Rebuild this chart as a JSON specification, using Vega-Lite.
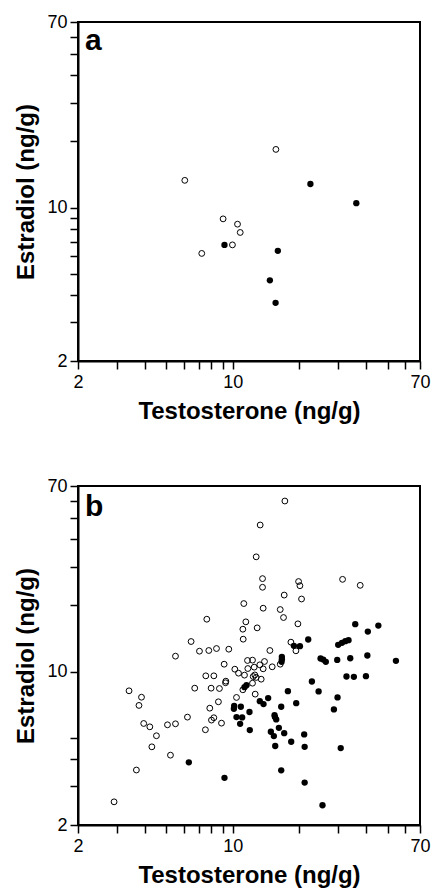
{
  "$schema": "https://vega.github.io/schema/vega-lite/v6.json",
  "padding": {"left": 13, "top": 12, "right": 0, "bottom": 0},
  "background": "white",
  "config": {
    "view": {"stroke": "black", "strokeWidth": 2},
    "axis": {
      "grid": false,
      "domainColor": "black",
      "domainWidth": 2,
      "tickColor": "black",
      "tickWidth": 1.5,
      "tickSize": 8,
      "labelFont": "Liberation Sans",
      "labelFontSize": 18,
      "labelColor": "black",
      "labelFlush": false,
      "labelOverlap": false,
      "titleFont": "Liberation Sans",
      "titleFontSize": 24,
      "titleFontWeight": "bold",
      "titleColor": "black"
    }
  },
  "datasets": {
    "pts": [
      {"panel": "a", "group": "open", "testosterone": 15.65, "estradiol": 18.4},
      {"panel": "a", "group": "open", "testosterone": 6.07, "estradiol": 13.3},
      {"panel": "a", "group": "open", "testosterone": 9.04, "estradiol": 8.88},
      {"panel": "a", "group": "open", "testosterone": 10.5, "estradiol": 8.4},
      {"panel": "a", "group": "open", "testosterone": 10.8, "estradiol": 7.7},
      {"panel": "a", "group": "open", "testosterone": 9.96, "estradiol": 6.76},
      {"panel": "a", "group": "open", "testosterone": 7.24, "estradiol": 6.18},
      {"panel": "a", "group": "filled", "testosterone": 22.4, "estradiol": 12.8},
      {"panel": "a", "group": "filled", "testosterone": 36.1, "estradiol": 10.47},
      {"panel": "a", "group": "filled", "testosterone": 9.17, "estradiol": 6.76},
      {"panel": "a", "group": "filled", "testosterone": 15.97, "estradiol": 6.35},
      {"panel": "a", "group": "filled", "testosterone": 14.7, "estradiol": 4.66},
      {"panel": "a", "group": "filled", "testosterone": 15.6, "estradiol": 3.68},

      {"panel": "b", "group": "open", "testosterone": 17.18, "estradiol": 59.8},
      {"panel": "b", "group": "open", "testosterone": 13.29, "estradiol": 46.5},
      {"panel": "b", "group": "open", "testosterone": 12.75, "estradiol": 33.3},
      {"panel": "b", "group": "open", "testosterone": 13.62, "estradiol": 26.5},
      {"panel": "b", "group": "open", "testosterone": 13.62, "estradiol": 24.2},
      {"panel": "b", "group": "open", "testosterone": 19.81, "estradiol": 25.7},
      {"panel": "b", "group": "open", "testosterone": 20.09, "estradiol": 24.6},
      {"panel": "b", "group": "open", "testosterone": 17.06, "estradiol": 22.3},
      {"panel": "b", "group": "open", "testosterone": 20.43, "estradiol": 21.4},
      {"panel": "b", "group": "open", "testosterone": 31.3, "estradiol": 26.3},
      {"panel": "b", "group": "open", "testosterone": 37.6, "estradiol": 24.7},
      {"panel": "b", "group": "open", "testosterone": 11.21, "estradiol": 20.4},
      {"panel": "b", "group": "open", "testosterone": 13.71, "estradiol": 19.43},
      {"panel": "b", "group": "open", "testosterone": 16.37, "estradiol": 19.16},
      {"panel": "b", "group": "open", "testosterone": 16.94, "estradiol": 17.62},
      {"panel": "b", "group": "open", "testosterone": 7.63, "estradiol": 17.31},
      {"panel": "b", "group": "open", "testosterone": 11.45, "estradiol": 16.84},
      {"panel": "b", "group": "open", "testosterone": 19.67, "estradiol": 16.49},
      {"panel": "b", "group": "open", "testosterone": 12.88, "estradiol": 15.81},
      {"panel": "b", "group": "open", "testosterone": 11.1, "estradiol": 15.59},
      {"panel": "b", "group": "open", "testosterone": 11.14, "estradiol": 14.04},
      {"panel": "b", "group": "open", "testosterone": 6.48, "estradiol": 13.7},
      {"panel": "b", "group": "open", "testosterone": 18.29, "estradiol": 13.61},
      {"panel": "b", "group": "open", "testosterone": 7.07, "estradiol": 12.38},
      {"panel": "b", "group": "open", "testosterone": 7.79, "estradiol": 12.47},
      {"panel": "b", "group": "open", "testosterone": 8.44, "estradiol": 12.73},
      {"panel": "b", "group": "open", "testosterone": 9.59, "estradiol": 12.64},
      {"panel": "b", "group": "open", "testosterone": 14.7, "estradiol": 12.47},
      {"panel": "b", "group": "open", "testosterone": 19.27, "estradiol": 12.43},
      {"panel": "b", "group": "open", "testosterone": 5.51, "estradiol": 11.75},
      {"panel": "b", "group": "open", "testosterone": 11.65, "estradiol": 11.23},
      {"panel": "b", "group": "open", "testosterone": 12.27, "estradiol": 11.27},
      {"panel": "b", "group": "open", "testosterone": 9.14, "estradiol": 10.8},
      {"panel": "b", "group": "open", "testosterone": 13.24, "estradiol": 10.73},
      {"panel": "b", "group": "open", "testosterone": 13.9, "estradiol": 11.11},
      {"panel": "b", "group": "open", "testosterone": 15.06, "estradiol": 10.51},
      {"panel": "b", "group": "open", "testosterone": 16.37, "estradiol": 10.8},
      {"panel": "b", "group": "open", "testosterone": 10.21, "estradiol": 10.25},
      {"panel": "b", "group": "open", "testosterone": 11.69, "estradiol": 10.32},
      {"panel": "b", "group": "open", "testosterone": 12.49, "estradiol": 10.47},
      {"panel": "b", "group": "open", "testosterone": 13.71, "estradiol": 10.29},
      {"panel": "b", "group": "open", "testosterone": 10.61, "estradiol": 9.83},
      {"panel": "b", "group": "open", "testosterone": 11.29, "estradiol": 9.63},
      {"panel": "b", "group": "open", "testosterone": 12.57, "estradiol": 9.65},
      {"panel": "b", "group": "open", "testosterone": 7.55, "estradiol": 9.56},
      {"panel": "b", "group": "open", "testosterone": 8.21, "estradiol": 9.56},
      {"panel": "b", "group": "open", "testosterone": 12.36, "estradiol": 9.49},
      {"panel": "b", "group": "open", "testosterone": 12.75, "estradiol": 9.4},
      {"panel": "b", "group": "open", "testosterone": 13.43, "estradiol": 9.23},
      {"panel": "b", "group": "open", "testosterone": 9.3, "estradiol": 9.04},
      {"panel": "b", "group": "open", "testosterone": 9.27, "estradiol": 8.89},
      {"panel": "b", "group": "open", "testosterone": 12.27, "estradiol": 8.85},
      {"panel": "b", "group": "open", "testosterone": 6.73, "estradiol": 8.4},
      {"panel": "b", "group": "open", "testosterone": 7.98, "estradiol": 8.4},
      {"panel": "b", "group": "open", "testosterone": 8.7, "estradiol": 8.37},
      {"panel": "b", "group": "open", "testosterone": 3.4, "estradiol": 8.17},
      {"panel": "b", "group": "open", "testosterone": 3.87, "estradiol": 7.64},
      {"panel": "b", "group": "open", "testosterone": 3.77, "estradiol": 7.01},
      {"panel": "b", "group": "open", "testosterone": 10.39, "estradiol": 7.62},
      {"panel": "b", "group": "open", "testosterone": 12.62, "estradiol": 7.89},
      {"panel": "b", "group": "open", "testosterone": 8.61, "estradiol": 7.28},
      {"panel": "b", "group": "open", "testosterone": 7.87, "estradiol": 6.81},
      {"panel": "b", "group": "open", "testosterone": 6.24, "estradiol": 6.2},
      {"panel": "b", "group": "open", "testosterone": 8.21, "estradiol": 6.16},
      {"panel": "b", "group": "open", "testosterone": 8.01, "estradiol": 6.01},
      {"panel": "b", "group": "open", "testosterone": 3.96, "estradiol": 5.8},
      {"panel": "b", "group": "open", "testosterone": 4.22, "estradiol": 5.6},
      {"panel": "b", "group": "open", "testosterone": 5.07, "estradiol": 5.72},
      {"panel": "b", "group": "open", "testosterone": 5.51, "estradiol": 5.78},
      {"panel": "b", "group": "open", "testosterone": 8.89, "estradiol": 5.82},
      {"panel": "b", "group": "open", "testosterone": 4.52, "estradiol": 5.1},
      {"panel": "b", "group": "open", "testosterone": 7.52, "estradiol": 5.43},
      {"panel": "b", "group": "open", "testosterone": 4.31, "estradiol": 4.54},
      {"panel": "b", "group": "open", "testosterone": 5.23, "estradiol": 4.16},
      {"panel": "b", "group": "open", "testosterone": 3.67, "estradiol": 3.56},
      {"panel": "b", "group": "open", "testosterone": 2.91, "estradiol": 2.55},
      {"panel": "b", "group": "open", "testosterone": 11.1, "estradiol": 8.26},

      {"panel": "b", "group": "filled", "testosterone": 35.7, "estradiol": 16.43},
      {"panel": "b", "group": "filled", "testosterone": 45.4, "estradiol": 16.2},
      {"panel": "b", "group": "filled", "testosterone": 40.7, "estradiol": 15.21},
      {"panel": "b", "group": "filled", "testosterone": 21.9, "estradiol": 13.99},
      {"panel": "b", "group": "filled", "testosterone": 33.3, "estradiol": 13.89},
      {"panel": "b", "group": "filled", "testosterone": 32.2, "estradiol": 13.75},
      {"panel": "b", "group": "filled", "testosterone": 31.1, "estradiol": 13.51},
      {"panel": "b", "group": "filled", "testosterone": 29.9, "estradiol": 13.23},
      {"panel": "b", "group": "filled", "testosterone": 18.87, "estradiol": 13.09},
      {"panel": "b", "group": "filled", "testosterone": 20.09, "estradiol": 13.05},
      {"panel": "b", "group": "filled", "testosterone": 16.65, "estradiol": 11.67},
      {"panel": "b", "group": "filled", "testosterone": 16.65, "estradiol": 11.38},
      {"panel": "b", "group": "filled", "testosterone": 16.6, "estradiol": 11.07},
      {"panel": "b", "group": "filled", "testosterone": 24.9, "estradiol": 11.47},
      {"panel": "b", "group": "filled", "testosterone": 25.6, "estradiol": 11.34},
      {"panel": "b", "group": "filled", "testosterone": 26.3, "estradiol": 11.07},
      {"panel": "b", "group": "filled", "testosterone": 29.6, "estradiol": 11.3},
      {"panel": "b", "group": "filled", "testosterone": 33.9, "estradiol": 11.5},
      {"panel": "b", "group": "filled", "testosterone": 40.5, "estradiol": 11.83},
      {"panel": "b", "group": "filled", "testosterone": 54.5, "estradiol": 11.19},
      {"panel": "b", "group": "filled", "testosterone": 32.6, "estradiol": 9.49},
      {"panel": "b", "group": "filled", "testosterone": 35.2, "estradiol": 9.46},
      {"panel": "b", "group": "filled", "testosterone": 39.9, "estradiol": 9.53},
      {"panel": "b", "group": "filled", "testosterone": 22.75, "estradiol": 9.01},
      {"panel": "b", "group": "filled", "testosterone": 11.53, "estradiol": 8.67},
      {"panel": "b", "group": "filled", "testosterone": 11.29, "estradiol": 8.49},
      {"panel": "b", "group": "filled", "testosterone": 17.73, "estradiol": 8.14},
      {"panel": "b", "group": "filled", "testosterone": 24.4, "estradiol": 8.12},
      {"panel": "b", "group": "filled", "testosterone": 14.44, "estradiol": 7.57},
      {"panel": "b", "group": "filled", "testosterone": 13.24, "estradiol": 7.33},
      {"panel": "b", "group": "filled", "testosterone": 13.76, "estradiol": 7.11},
      {"panel": "b", "group": "filled", "testosterone": 19.33, "estradiol": 7.18},
      {"panel": "b", "group": "filled", "testosterone": 29.7, "estradiol": 7.62},
      {"panel": "b", "group": "filled", "testosterone": 16.54, "estradiol": 6.91},
      {"panel": "b", "group": "filled", "testosterone": 28.6, "estradiol": 6.72},
      {"panel": "b", "group": "filled", "testosterone": 10.14, "estradiol": 6.98},
      {"panel": "b", "group": "filled", "testosterone": 10.11, "estradiol": 6.77},
      {"panel": "b", "group": "filled", "testosterone": 10.87, "estradiol": 6.91},
      {"panel": "b", "group": "filled", "testosterone": 11.89, "estradiol": 6.54},
      {"panel": "b", "group": "filled", "testosterone": 10.39, "estradiol": 6.2},
      {"panel": "b", "group": "filled", "testosterone": 11.02, "estradiol": 6.18},
      {"panel": "b", "group": "filled", "testosterone": 10.79, "estradiol": 5.78},
      {"panel": "b", "group": "filled", "testosterone": 15.43, "estradiol": 6.33},
      {"panel": "b", "group": "filled", "testosterone": 15.5, "estradiol": 6.2},
      {"panel": "b", "group": "filled", "testosterone": 15.7, "estradiol": 6.05},
      {"panel": "b", "group": "filled", "testosterone": 16.14, "estradiol": 5.54},
      {"panel": "b", "group": "filled", "testosterone": 11.93, "estradiol": 5.41},
      {"panel": "b", "group": "filled", "testosterone": 14.85, "estradiol": 5.32},
      {"panel": "b", "group": "filled", "testosterone": 15.32, "estradiol": 5.08},
      {"panel": "b", "group": "filled", "testosterone": 17.06, "estradiol": 5.24},
      {"panel": "b", "group": "filled", "testosterone": 18.35, "estradiol": 4.79},
      {"panel": "b", "group": "filled", "testosterone": 21.0, "estradiol": 5.17},
      {"panel": "b", "group": "filled", "testosterone": 15.54, "estradiol": 4.58},
      {"panel": "b", "group": "filled", "testosterone": 21.1, "estradiol": 4.54},
      {"panel": "b", "group": "filled", "testosterone": 30.7, "estradiol": 4.48},
      {"panel": "b", "group": "filled", "testosterone": 6.33, "estradiol": 3.86},
      {"panel": "b", "group": "filled", "testosterone": 9.17, "estradiol": 3.28},
      {"panel": "b", "group": "filled", "testosterone": 16.54, "estradiol": 3.55},
      {"panel": "b", "group": "filled", "testosterone": 21.1, "estradiol": 3.12},
      {"panel": "b", "group": "filled", "testosterone": 25.4, "estradiol": 2.46}
    ]
  },
  "spacing": 52,
  "vconcat": [
    {
      "width": 342,
      "height": 339,
      "layer": [
        {
          "data": {"name": "pts"},
          "transform": [{"filter": "datum.panel == 'a' && datum.group == 'open'"}],
          "mark": {"type": "point", "shape": "circle", "filled": false, "stroke": "black", "strokeWidth": 1, "size": 34, "opacity": 1},
          "encoding": {
            "x": {"field": "testosterone", "type": "quantitative",
              "scale": {"type": "log", "domain": [2, 70], "nice": false},
              "axis": {"title": "Testosterone (ng/g)", "values": [2,3,4,5,6,7,8,9,10,20,30,40,50,60,70], "format": "d",
                "labelExpr": "(datum.value == 2 || datum.value == 10 || datum.value == 70) ? datum.label : ''", "labelPadding": 4, "titlePadding": 8}},
            "y": {"field": "estradiol", "type": "quantitative",
              "scale": {"type": "log", "domain": [2, 70], "nice": false},
              "axis": {"title": "Estradiol (ng/g)", "values": [2,3,4,5,6,7,8,9,10,20,30,40,50,60,70], "format": "d",
                "labelExpr": "(datum.value == 2 || datum.value == 10 || datum.value == 70) ? datum.label : ''", "labelPadding": 3, "titlePadding": 8}}
          }
        },
        {
          "data": {"name": "pts"},
          "transform": [{"filter": "datum.panel == 'a' && datum.group == 'filled'"}],
          "mark": {"type": "circle", "color": "black", "size": 40, "opacity": 1},
          "encoding": {
            "x": {"field": "testosterone", "type": "quantitative"},
            "y": {"field": "estradiol", "type": "quantitative"}
          }
        },
        {
          "data": {"values": [{"label": "a"}]},
          "mark": {"type": "text", "font": "Liberation Sans", "fontSize": 30, "fontWeight": "bold", "align": "left", "baseline": "alphabetic", "color": "black"},
          "encoding": {
            "x": {"datum": 2.15, "type": "quantitative"},
            "y": {"datum": 52, "type": "quantitative"},
            "text": {"field": "label"}
          }
        }
      ]
    },
    {
      "width": 342,
      "height": 339,
      "layer": [
        {
          "data": {"name": "pts"},
          "transform": [{"filter": "datum.panel == 'b' && datum.group == 'open'"}],
          "mark": {"type": "point", "shape": "circle", "filled": false, "stroke": "black", "strokeWidth": 1, "size": 34, "opacity": 1},
          "encoding": {
            "x": {"field": "testosterone", "type": "quantitative",
              "scale": {"type": "log", "domain": [2, 70], "nice": false},
              "axis": {"title": "Testosterone (ng/g)", "values": [2,3,4,5,6,7,8,9,10,20,30,40,50,60,70], "format": "d",
                "labelExpr": "(datum.value == 2 || datum.value == 10 || datum.value == 70) ? datum.label : ''", "labelPadding": 4, "titlePadding": 8}},
            "y": {"field": "estradiol", "type": "quantitative",
              "scale": {"type": "log", "domain": [2, 70], "nice": false},
              "axis": {"title": "Estradiol (ng/g)", "values": [2,3,4,5,10,20,30,40,50,60,70], "format": "d",
                "labelExpr": "(datum.value == 2 || datum.value == 10 || datum.value == 70) ? datum.label : ''", "labelPadding": 3, "titlePadding": 8}}
          }
        },
        {
          "data": {"name": "pts"},
          "transform": [{"filter": "datum.panel == 'b' && datum.group == 'filled'"}],
          "mark": {"type": "circle", "color": "black", "size": 40, "opacity": 1},
          "encoding": {
            "x": {"field": "testosterone", "type": "quantitative"},
            "y": {"field": "estradiol", "type": "quantitative"}
          }
        },
        {
          "data": {"values": [{"label": "b"}]},
          "mark": {"type": "text", "font": "Liberation Sans", "fontSize": 30, "fontWeight": "bold", "align": "left", "baseline": "alphabetic", "color": "black"},
          "encoding": {
            "x": {"datum": 2.15, "type": "quantitative"},
            "y": {"datum": 51, "type": "quantitative"},
            "text": {"field": "label"}
          }
        }
      ]
    }
  ]
}
